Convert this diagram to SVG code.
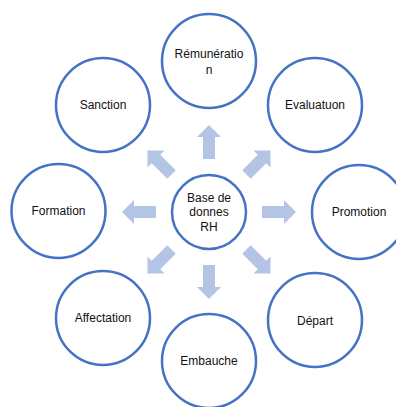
<svg xmlns="http://www.w3.org/2000/svg" width="396" height="407" viewBox="0 0 396 407">
  <style>
    .node { fill: #ffffff; stroke: #4472C4; stroke-width: 2.5; }
    .label { font-family: "Liberation Sans", Arial, sans-serif; font-size: 12px; fill: #111111; text-anchor: middle; dominant-baseline: central; }
    .arrow { fill: #B4C4E4; }
  </style>
  <defs>
    <!-- block arrow pointing up, base 53 from the hub centre, tip at 87 -->
    <path id="blockArrow" d="M -6 -53 L -6 -75 L -12 -75 L 0 -87 L 12 -75 L 6 -75 L 6 -53 Z"/>
  </defs>
  <rect width="396" height="407" fill="#ffffff"/>

  <g id="connectors" class="arrow" transform="translate(209 212)">
    <use href="#blockArrow" transform="rotate(0)"/>
    <use href="#blockArrow" transform="rotate(45)"/>
    <use href="#blockArrow" transform="rotate(90)"/>
    <use href="#blockArrow" transform="rotate(135)"/>
    <use href="#blockArrow" transform="rotate(180)"/>
    <use href="#blockArrow" transform="rotate(225)"/>
    <use href="#blockArrow" transform="rotate(270)"/>
    <use href="#blockArrow" transform="rotate(315)"/>
  </g>

  <g id="hub">
    <circle class="node" cx="209" cy="212" r="37"/>
    <text class="label" x="209" y="197.5">Base de</text>
    <text class="label" x="209" y="212">donnes</text>
    <text class="label" x="209" y="226.5">RH</text>
  </g>

  <g id="remuneration">
    <circle class="node" cx="209" cy="61" r="47"/>
    <text class="label" x="209" y="54" textLength="69" lengthAdjust="spacingAndGlyphs">Rémunératio</text>
    <text class="label" x="209" y="70">n</text>
  </g>

  <g id="evaluation">
    <circle class="node" cx="315" cy="105" r="47"/>
    <text class="label" x="315" y="105">Evaluatuon</text>
  </g>

  <g id="promotion">
    <circle class="node" cx="359" cy="212" r="47"/>
    <text class="label" x="359" y="212">Promotion</text>
  </g>

  <g id="depart">
    <circle class="node" cx="315" cy="320" r="47"/>
    <text class="label" x="315" y="321">Départ</text>
  </g>

  <g id="embauche">
    <circle class="node" cx="209" cy="361" r="47"/>
    <text class="label" x="209" y="361">Embauche</text>
  </g>

  <g id="affectation">
    <circle class="node" cx="103" cy="318" r="47"/>
    <text class="label" x="103" y="318">Affectation</text>
  </g>

  <g id="formation">
    <circle class="node" cx="58.5" cy="211" r="47"/>
    <text class="label" x="58.5" y="211">Formation</text>
  </g>

  <g id="sanction">
    <circle class="node" cx="103" cy="105" r="47"/>
    <text class="label" x="103" y="105">Sanction</text>
  </g>
</svg>
